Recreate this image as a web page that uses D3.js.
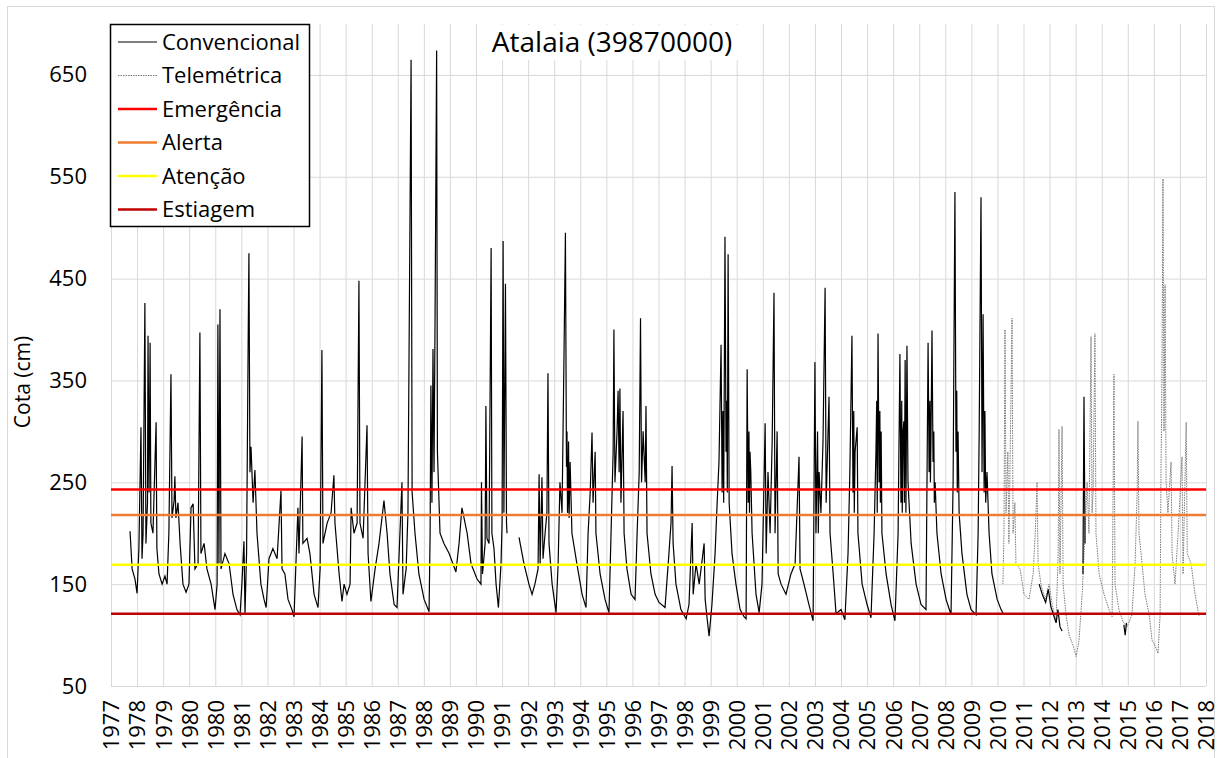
<!DOCTYPE html>
<html>
<head>
<meta charset="utf-8">
<script src="https://cdn.jsdelivr.net/npm/d3@7"></script>
<style>
  body { margin: 0; background: #fff; }
  svg { font-family: "Open Sans", "Noto Sans", sans-serif; }
</style>
</head>
<body>
<script>
// year labels of the date axis (Excel steps 365 days, so 1980 shows twice)
const tickLabels = ["1977","1978","1979","1980","1980","1981","1982","1983","1984","1985",
  "1986","1987","1988","1989","1990","1991","1992","1993","1994","1995","1996","1997",
  "1998","1999","2000","2001","2002","2003","2004","2005","2006","2007","2008","2009",
  "2010","2011","2012","2013","2014","2015","2016","2017","2018"];
const yTicks = [50, 150, 250, 350, 450, 550, 650];

const legendNames = ["Convencional", "Telemétrica", "Emergência", "Alerta", "Atenção", "Estiagem"];
const thresholdNames = ["Emergência", "Alerta", "Atenção", "Estiagem"];
const thresholdValues = [243, 218, 169, 121];

// cota (cm), [decimal year, value]; null = gap
const convencional = [
  [1977.73,202],[1977.81,165],[1977.92,155],[1978.00,141],[1978.07,185],[1978.15,304],[1978.19,175],[1978.23,200],[1978.30,426],[1978.34,190],[1978.40,230],[1978.42,394],[1978.46,240],[1978.50,387],[1978.53,210],[1978.61,200],[1978.73,309],[1978.76,185],[1978.84,160],[1978.96,150],
  [1979.07,158],[1979.15,150],[1979.22,200],[1979.30,356],[1979.34,215],[1979.42,232],[1979.45,256],[1979.49,215],[1979.57,230],[1979.65,190],[1979.76,150],[1979.88,142],
  [1979.99,150],[1980.07,225],[1980.15,229],[1980.22,165],[1980.34,170],[1980.41,397],[1980.45,180],[1980.57,190],[1980.68,165],[1980.84,150],[1980.99,125],
  [1981.07,150],[1981.10,405],[1981.14,170],[1981.18,420],[1981.22,165],[1981.37,180],[1981.53,170],[1981.68,140],[1981.83,125],[1981.95,120],
  [1982.02,150],[1982.10,192],[1982.14,121],[1982.20,180],[1982.26,385],[1982.29,475],[1982.33,260],[1982.37,285],[1982.45,230],[1982.52,262],[1982.60,200],[1982.75,150],[1982.87,135],[1982.95,127],
  [1983.06,175],[1983.21,185],[1983.37,175],[1983.52,242],[1983.56,165],[1983.67,160],[1983.79,135],[1983.94,125],
  [1984.02,118],[1984.17,225],[1984.21,180],[1984.33,295],[1984.36,190],[1984.52,195],[1984.63,180],[1984.79,140],[1984.94,127],
  [1985.02,165],[1985.09,380],[1985.13,190],[1985.29,210],[1985.44,220],[1985.55,257],[1985.59,210],[1985.75,160],[1985.86,133],[1985.94,150],
  [1986.05,140],[1986.17,150],[1986.21,225],[1986.32,200],[1986.44,210],[1986.51,448],[1986.55,210],[1986.67,195],[1986.82,306],[1986.86,180],[1986.97,133],
  [1987.13,165],[1987.28,190],[1987.47,232],[1987.59,200],[1987.70,160],[1987.86,130],[1987.97,127],
  [1988.16,250],[1988.20,140],[1988.32,165],[1988.39,220],[1988.51,665],[1988.55,240],[1988.66,200],[1988.81,160],[1989.01,135],[1989.20,123],
  [1989.24,200],[1989.27,345],[1989.31,230],[1989.35,381],[1989.39,260],[1989.43,414],[1989.49,674],[1989.52,280],[1989.62,200],[1989.77,190],[1989.97,180],
  [1990.23,162],[1990.35,190],[1990.46,225],[1990.54,215],[1990.66,200],[1990.81,170],
  [1991.04,155],[1991.19,150],[1991.21,250],[1991.25,160],[1991.35,190],[1991.38,325],[1991.42,195],[1991.50,190],[1991.58,480],[1991.61,200],[1991.69,185],[1991.77,150],[1991.86,127],[1991.96,170],
  [1992.00,210],[1992.04,487],[1992.07,220],[1992.13,445],[1992.17,210],[1992.19,200],
  null,
  [1992.65,196],[1992.84,170],[1993.03,150],[1993.15,140],[1993.26,150],[1993.38,165],[1993.42,258],[1993.46,170],[1993.53,255],[1993.57,175],[1993.65,200],[1993.72,220],[1993.76,357],[1993.80,190],[1993.92,150],
  [1994.07,122],[1994.15,170],[1994.22,250],[1994.30,220],[1994.38,385],[1994.43,495],[1994.47,265],[1994.49,300],[1994.51,220],[1994.53,240],[1994.55,290],[1994.57,215],[1994.61,270],[1994.68,200],[1994.87,170],
  [1995.07,140],[1995.22,127],[1995.30,200],[1995.38,240],[1995.45,299],[1995.49,230],[1995.57,280],[1995.60,200],[1995.76,160],[1995.95,135],
  [1996.10,122],[1996.18,200],[1996.26,280],[1996.29,400],[1996.33,250],[1996.41,300],[1996.45,340],[1996.49,260],[1996.52,342],[1996.56,230],[1996.64,320],[1996.68,200],[1996.79,165],[1996.95,140],
  [1997.10,135],[1997.18,200],[1997.26,260],[1997.31,411],[1997.35,250],[1997.41,300],[1997.49,250],[1997.52,325],[1997.56,200],[1997.71,160],[1997.87,140],
  [1998.02,132],[1998.25,127],[1998.40,180],[1998.48,210],[1998.52,266],[1998.56,190],[1998.67,150],[1998.86,125],
  [1999.06,116],[1999.17,130],[1999.29,210],[1999.33,140],[1999.44,170],[1999.56,150],[1999.68,175],[1999.75,190],[1999.79,135],[1999.87,115],[1999.94,99],
  [2000.05,130],[2000.17,180],[2000.25,230],[2000.32,270],[2000.40,385],[2000.44,240],[2000.47,320],[2000.50,230],[2000.55,491],[2000.59,280],[2000.62,330],[2000.64,240],[2000.67,474],[2000.71,230],[2000.82,180],[2000.97,150],
  [2001.13,125],[2001.28,118],[2001.36,116],[2001.40,361],[2001.44,230],[2001.47,300],[2001.49,220],[2001.51,280],[2001.54,260],[2001.59,200],[2001.74,140],[2001.86,122],[2001.97,150],
  [2002.09,308],[2002.13,180],[2002.20,260],[2002.28,200],[2002.36,290],[2002.43,436],[2002.47,200],[2002.55,300],[2002.59,160],[2002.70,150],[2002.89,140],
  [2003.08,160],[2003.24,170],[2003.39,275],[2003.43,165],[2003.58,150],[2003.77,130],[2003.93,114],
  [2004.00,368],[2004.04,200],[2004.10,300],[2004.13,200],[2004.16,260],[2004.23,220],[2004.31,290],[2004.39,441],[2004.43,230],[2004.54,334],[2004.58,200],[2004.70,160],[2004.81,121],
  [2005.00,125],[2005.15,115],[2005.27,180],[2005.34,260],[2005.42,394],[2005.46,240],[2005.49,320],[2005.51,220],[2005.54,280],[2005.62,304],[2005.65,200],[2005.81,150],
  [2006.00,130],[2006.15,117],[2006.27,200],[2006.34,280],[2006.37,330],[2006.39,220],[2006.42,396],[2006.46,250],[2006.49,320],[2006.51,230],[2006.54,300],[2006.57,200],[2006.73,160],[2006.92,130],
  [2007.07,114],[2007.19,200],[2007.26,376],[2007.30,230],[2007.33,330],[2007.35,220],[2007.38,300],[2007.41,310],[2007.43,230],[2007.46,370],[2007.49,220],[2007.53,384],[2007.57,250],[2007.69,190],[2007.88,150],
  [2008.07,130],[2008.26,125],[2008.34,387],[2008.38,260],[2008.41,330],[2008.43,250],[2008.45,290],[2008.49,399],[2008.53,270],[2008.56,300],[2008.58,230],[2008.61,250],[2008.68,200],[2008.84,160],
  [2009.03,135],[2009.22,120],[2009.30,250],[2009.37,535],[2009.41,280],[2009.44,340],[2009.46,240],[2009.49,300],[2009.53,220],[2009.64,180],[2009.83,140],[2009.99,125],
  [2010.18,120],[2010.26,200],[2010.30,300],[2010.37,530],[2010.41,260],[2010.45,415],[2010.49,240],[2010.52,320],[2010.55,230],[2010.60,260],[2010.68,200],[2010.79,160],[2010.99,135],[2011.14,125],[2011.25,120],
  null,
  [2012.60,150],[2012.72,140],[2012.85,132],[2012.95,145],[2013.05,128],[2013.15,120],[2013.25,112],[2013.32,125],[2013.40,108],[2013.48,104],
  null,
  [2014.28,160],[2014.32,334],[2014.36,190],
  null,
  [2015.85,110],[2015.90,100],[2015.95,112]
];

const telemetrica = [
  [2011.21,150],[2011.25,200],[2011.29,400],[2011.33,220],[2011.40,280],[2011.44,190],[2011.48,260],[2011.56,411],[2011.60,200],[2011.67,230],[2011.71,170],[2011.87,165],
  [2012.02,140],[2012.21,135],[2012.37,160],[2012.45,200],[2012.52,250],[2012.56,170],[2012.67,150],[2012.83,135],[2012.98,150],
  [2013.10,130],[2013.25,113],[2013.33,180],[2013.36,302],[2013.40,160],[2013.48,305],[2013.52,150],[2013.63,120],[2013.75,100],[2013.90,90],
  [2014.02,79],[2014.13,95],[2014.25,140],[2014.36,200],[2014.44,250],[2014.51,200],[2014.59,393],[2014.63,220],[2014.67,240],[2014.74,396],[2014.78,200],[2014.90,160],
  [2015.09,140],[2015.28,125],[2015.40,118],[2015.47,356],[2015.51,150],[2015.66,125],[2015.82,113],[2015.97,108],
  [2016.16,120],[2016.28,170],[2016.36,240],[2016.39,310],[2016.43,200],[2016.51,180],[2016.66,140],[2016.82,120],[2016.93,95],
  [2017.04,90],[2017.16,82],[2017.24,120],[2017.27,250],[2017.31,350],[2017.35,548],[2017.39,300],[2017.43,444],[2017.47,250],[2017.54,220],[2017.66,270],[2017.70,180],[2017.81,150],[2017.93,200],
  [2017.99,230],[2018.08,275],[2018.12,160],[2018.24,309],[2018.28,180],[2018.43,170],[2018.58,140],[2018.73,119]
];

const width = 1219, height = 758;
const plotLeft = 111, plotRight = 1206, plotTop = 24, plotBottom = 686;
const thresholdColors = ["#ff0000", "#ed7d31", "#ffff00", "#c00000"];

const svg = d3.select("body").append("svg")
  .attr("width", width)
  .attr("height", height);

svg.append("rect").attr("width", width).attr("height", height).attr("fill", "#fff");
svg.append("rect")
  .attr("x", 7.5).attr("y", 6.5)
  .attr("width", 1207).attr("height", 780)
  .attr("fill", "none").attr("stroke", "#d9d9d9");

const x = d3.scaleLinear().domain([1977, 2019]).range([plotLeft, plotRight]);
const y = d3.scaleLinear().domain([50, 700]).range([plotBottom, plotTop]);

// vertical grid + year labels
const xAxis = svg.append("g")
  .attr("transform", `translate(0,${plotBottom})`)
  .call(d3.axisBottom(x)
    .tickValues(tickLabels.map((d, i) => 1977 + i))
    .tickSize(-(plotBottom - plotTop))
    .tickFormat((d, i) => tickLabels[i]));
xAxis.select(".domain").remove();
xAxis.selectAll("line").attr("stroke", "#d9d9d9");
xAxis.selectAll("text")
  .attr("transform", "rotate(-90)")
  .attr("text-anchor", "end")
  .attr("x", -14).attr("y", 0).attr("dy", "0.36em")
  .attr("font-size", 22).attr("font-family", "Open Sans")
  .attr("fill", "#000");

// horizontal grid + cota labels
const yAxis = svg.append("g")
  .attr("transform", `translate(${plotLeft},0)`)
  .call(d3.axisLeft(y).tickValues(yTicks).tickSize(-(plotRight - plotLeft)));
yAxis.select(".domain").remove();
yAxis.selectAll("line").attr("stroke", "#d9d9d9");
yAxis.selectAll("text")
  .attr("x", -24)
  .attr("font-size", 22).attr("font-family", "Open Sans")
  .attr("fill", "#000");

svg.append("text")
  .attr("transform", "translate(30,382) rotate(-90)")
  .attr("text-anchor", "middle")
  .attr("font-size", 21)
  .attr("fill", "#000")
  .text("Cota (cm)");

const line = d3.line()
  .defined(d => d !== null)
  .x(d => x(d[0]))
  .y(d => y(d[1]));

svg.append("path")
  .datum(telemetrica)
  .attr("d", line)
  .attr("fill", "none")
  .attr("stroke", "#7a7a7a")
  .attr("stroke-width", 1)
  .attr("stroke-dasharray", "1.5,1");

svg.append("path")
  .datum(convencional)
  .attr("d", line)
  .attr("fill", "none")
  .attr("stroke", "#000")
  .attr("stroke-width", 1.2);

svg.selectAll(".limit")
  .data(thresholdValues)
  .enter().append("line")
  .attr("class", "limit")
  .attr("x1", plotLeft).attr("x2", plotRight)
  .attr("y1", d => y(d)).attr("y2", d => y(d))
  .attr("stroke", (d, i) => thresholdColors[i])
  .attr("stroke-width", 2.5);

// title on a white box
svg.append("rect")
  .attr("x", 482).attr("y", 25)
  .attr("width", 258).attr("height", 35)
  .attr("fill", "#fff");
svg.append("text")
  .attr("x", 612).attr("y", 52)
  .attr("text-anchor", "middle")
  .attr("font-size", 28)
  .attr("fill", "#000")
  .text("Atalaia (39870000)");

// legend
const legend = svg.append("g");
legend.append("rect")
  .attr("x", 110.5).attr("y", 24.5)
  .attr("width", 199).attr("height", 202)
  .attr("fill", "#fff")
  .attr("stroke", "#000")
  .attr("stroke-width", 1.5);

const legendStyles = [
  { stroke: "#000", width: 1, dash: null },
  { stroke: "#7a7a7a", width: 1, dash: "1.5,1" }
].concat(thresholdColors.map(c => ({ stroke: c, width: 2.5, dash: null })));

const item = legend.selectAll(".item")
  .data(legendNames)
  .enter().append("g")
  .attr("class", "item")
  .attr("transform", (d, i) => `translate(0,${42 + i * 33.5})`);

item.append("line")
  .attr("x1", 118).attr("x2", 157)
  .attr("stroke", (d, i) => legendStyles[i].stroke)
  .attr("stroke-width", (d, i) => legendStyles[i].width)
  .attr("stroke-dasharray", (d, i) => legendStyles[i].dash);

item.append("text")
  .attr("x", 162)
  .attr("dy", "0.35em")
  .attr("font-size", 22)
  .attr("fill", "#000")
  .text(d => d);
</script>
</body>
</html>
